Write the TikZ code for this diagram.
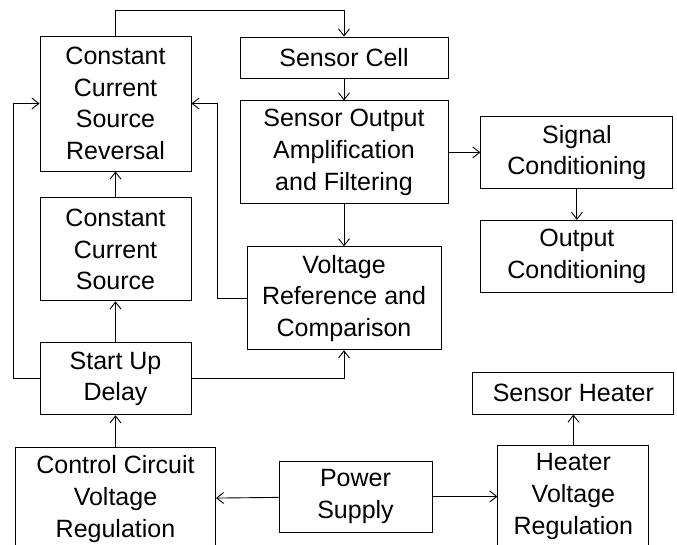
\documentclass[tikz,border=0pt]{standalone}
\usepackage{fontspec}
\setmainfont{Liberation Sans}
\usepackage{tikz}
\usetikzlibrary{arrows.meta,positioning}
\tikzset{
  blockbox/.style={
    rectangle, draw=black, fill=white, line width=0.9pt,
    inner sep=2pt, align=center, text=black,
    font=\fontsize{25}{31.7}\selectfont
  },
  link/.style={-{Straight Barb[length=7pt,width=11pt]}, line width=0.9pt, black}
}

\begin{document}
\begin{tikzpicture}[x=1pt, y=-1pt]
  \useasboundingbox (0,0) rectangle (677,544);

  % left column
  \node[blockbox, minimum width=151pt, minimum height=135pt] (ccsr) at (115.5,103.5)
    {Constant\\Current\\Source\\Reversal};
  \node[blockbox, minimum width=151pt, minimum height=103pt, below=26pt of ccsr] (ccs)
    {Constant\\Current\\Source};
  \node[blockbox, minimum width=151pt, minimum height=72pt, below=41pt of ccs] (sud)
    {Start Up\\Delay};
  \node[blockbox, minimum width=200pt, minimum height=103pt, below=32pt of sud] (ccvr)
    {Control Circuit\\Voltage\\Regulation};

  % middle column
  \node[blockbox, minimum width=208pt, minimum height=41pt] (sc) at (344,57.5)
    {Sensor Cell};
  \node[blockbox, minimum width=208pt, minimum height=103pt, below=22pt of sc] (soa)
    {Sensor Output\\Amplification\\and Filtering};
  \node[blockbox, minimum width=194pt, minimum height=103pt, below=42pt of soa] (vrc)
    {Voltage\\Reference and\\Comparison};
  \node[blockbox, minimum width=153pt, minimum height=71pt] (ps) at (355.5,496.5)
    {Power\\Supply};

  % right column
  \node[blockbox, minimum width=192pt, minimum height=72pt, right=32pt of soa] (sig)
    {Signal\\Conditioning};
  \node[blockbox, minimum width=192pt, minimum height=72pt, below=31pt of sig] (oc)
    {Output\\Conditioning};
  \node[blockbox, minimum width=151pt, minimum height=103pt, right=65pt of ps] (hvr)
    {Heater\\Voltage\\Regulation};
  \node[blockbox, minimum width=201pt, minimum height=42pt, above=30pt of hvr] (sh)
    {Sensor Heater};

  \draw[link] (ccsr.north) -- ++(0,-25) -| (sc.north);
  \draw[link] (sc) -- (soa);
  \draw[link] (soa) -- (sig);
  \draw[link] (sig) -- (oc);
  \draw[link] (soa) -- (vrc);
  \draw[link] (vrc.west) -- ++(-29,0) |- (ccsr.east);
  \draw[link] (ccs) -- (ccsr);
  \draw[link] (sud) -- (ccs);
  \draw[link] (sud.west) -- ++(-26,0) |- (ccsr.west);
  \draw[link] (sud.east) -| (vrc.south);
  \draw[link] (ccvr) -- (sud);
  \draw[link] (ps) -- (ccvr);
  \draw[link] (ps) -- (hvr);
  \draw[link] (hvr) -- (sh);
\end{tikzpicture}
\end{document}
